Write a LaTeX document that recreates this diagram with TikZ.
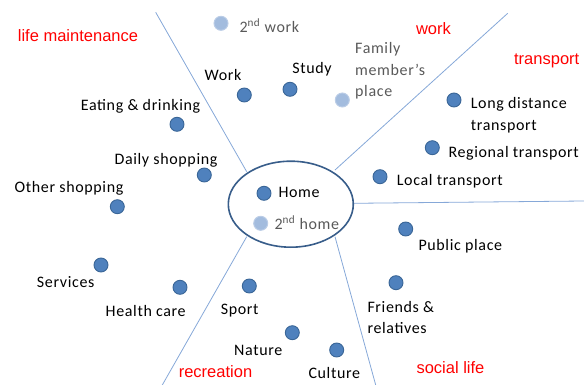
\documentclass[tikz,border=0pt]{standalone}
\usepackage{fontspec}
\usetikzlibrary{shapes.geometric}
\setmainfont{Carlito}[LetterSpace=4]
\newfontfamily\arialf{Liberation Sans}
\definecolor{dotfill}{HTML}{4F81BD}
\definecolor{dotdraw}{HTML}{3A6697}
\definecolor{lightdot}{HTML}{A3BCDE}
\definecolor{lightdotdraw}{HTML}{BACCE6}
\definecolor{sepline}{HTML}{86A8D8}
\definecolor{ellcol}{HTML}{385D8A}
\definecolor{graytext}{HTML}{595959}
\definecolor{redlab}{HTML}{FF0000}
\tikzset{
  dot/.style={circle, fill=dotfill, draw=dotdraw, line width=0.9pt, minimum size=14pt, inner sep=0pt},
  ldot/.style={circle, fill=lightdot, draw=lightdotdraw, line width=1pt, minimum size=14pt, inner sep=0pt},
  lab/.style={inner sep=0pt, font=\fontsize{16}{19}\selectfont, text=black},
  glab/.style={lab, text=graytext},
  cat/.style={inner sep=0pt, font=\arialf\fontsize{16.5}{19}\selectfont, text=redlab},
  sep/.style={draw=sepline, line width=0.8pt},
}
\begin{document}
\begin{tikzpicture}[x=1pt,y=-1pt]
\useasboundingbox (0,0) rectangle (584,385);
% separator lines
\coordinate (l1a) at (155.7,12.3); \coordinate (l1b) at (246.7,171.7);
\coordinate (l2a) at (507.7,13.3); \coordinate (l2b) at (335,170);
\coordinate (l3a) at (353.3,203.3); \coordinate (l3b) at (584,201);
\coordinate (l4a) at (335,236.7); \coordinate (l4b) at (375.7,385);
\coordinate (l5a) at (246.7,236.7); \coordinate (l5b) at (162.3,385);
\draw[sep] (l1a) -- (l1b);
\draw[sep] (l2a) -- (l2b);
\draw[sep] (l3a) -- (l3b);
\draw[sep] (l4a) -- (l4b);
\draw[sep] (l5a) -- (l5b);
% home ellipse
\node[ellipse, draw=ellcol, line width=1.6pt, fill=white, minimum width=125pt, minimum height=86pt, inner sep=0pt] (homeell) at (290.8,204.2) {};
% category labels
\node[cat] (catlife) at (78,36) {life maintenance};
\node[cat] (catwork) at (433.5,29) {work};
\node[cat] (cattrans) at (546.7,61) {transport};
\node[cat] (catrec) at (215.5,371.7) {recreation};
\node[cat] (catsoc) at (450.5,367.7) {social life};
% dots and labels
\node[ldot] (d2work) at (221,23.3) {};
\node[glab, anchor=west] (t2work) at (239.3,25.5) {2\textsuperscript{nd} work};
\node[dot] (dwork) at (244.3,95) {};
\node[lab] (twork) at (223,75) {Work};
\node[dot] (dstudy) at (290,89.3) {};
\node[lab] (tstudy) at (312,69) {Study};
\node[ldot] (dfam) at (342.3,100) {};
\node[glab, anchor=west, align=left, font=\fontsize{16}{21.5}\selectfont] (tfam) at (355,71) {Family\\member’s\\place};
\node[dot] (deat) at (177,124.3) {};
\node[lab] (teat) at (140.5,106) {Eating \& drinking};
\node[dot] (ddaily) at (204.3,175) {};
\node[lab] (tdaily) at (166,160) {Daily shopping};
\node[dot] (dother) at (117.3,206.7) {};
\node[lab] (tother) at (69,188) {Other shopping};
\node[dot] (dserv) at (101,265) {};
\node[lab] (tserv) at (65.7,281.7) {Services};
\node[dot] (dhealth) at (180,287.3) {};
\node[lab] (thealth) at (145.7,311) {Health care};
\node[dot] (dsport) at (249.3,286) {};
\node[lab] (tsport) at (239.7,311) {Sport};
\node[dot] (dnature) at (292.3,332.7) {};
\node[lab] (tnature) at (258.3,350) {Nature};
\node[dot] (dculture) at (336.7,350) {};
\node[lab] (tculture) at (334.3,373.3) {Culture};
\node[dot] (dhome) at (264,193.3) {};
\node[lab, anchor=west] (thome) at (278.3,192.7) {Home};
\node[ldot] (d2home) at (260.7,223.3) {};
\node[glab, anchor=west] (t2home) at (274.3,222.5) {2\textsuperscript{nd} home};
\node[dot] (dlong) at (454,100) {};
\node[lab, anchor=west, align=left, font=\fontsize{16}{21.5}\selectfont] (tlong) at (470.7,115) {Long distance\\transport};
\node[dot] (dreg) at (432.3,147.7) {};
\node[lab, anchor=west] (treg) at (448.3,153.3) {Regional transport};
\node[dot] (dlocal) at (380,176.7) {};
\node[lab, anchor=west] (tlocal) at (396.7,181.7) {Local transport};
\node[dot] (dpub) at (405.7,229) {};
\node[lab, anchor=west] (tpub) at (418.3,246.7) {Public place};
\node[dot] (dfriends) at (396,282.7) {};
\node[lab, anchor=west, align=left, font=\fontsize{16}{21}\selectfont] (tfriends) at (367.3,317.2) {Friends \&\\relatives};
\end{tikzpicture}
\end{document}
